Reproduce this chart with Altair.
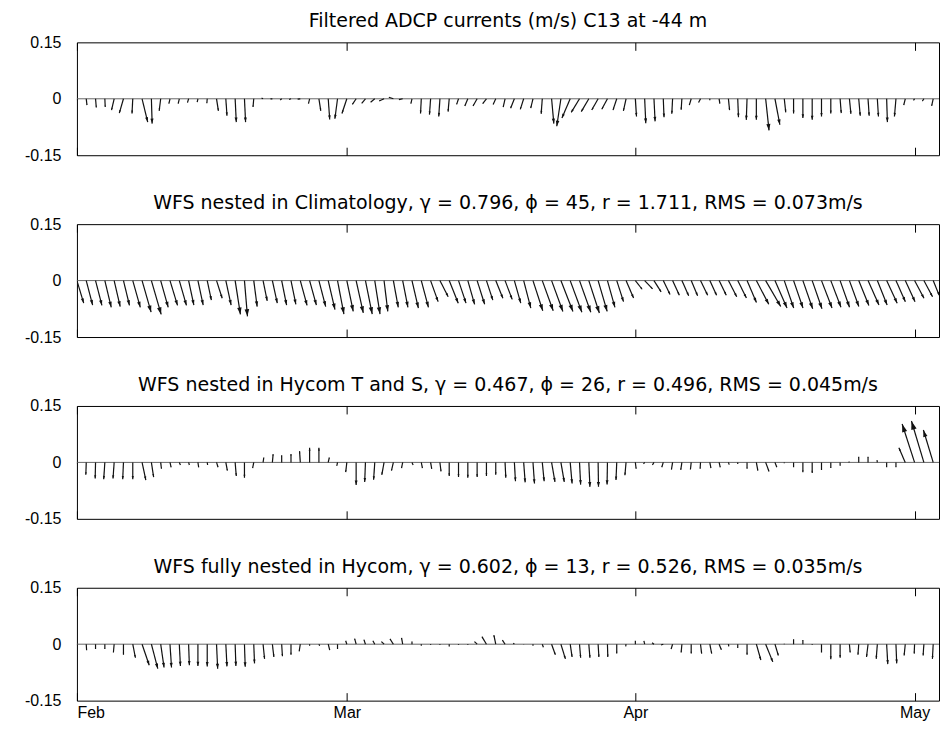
import altair as alt
import pandas as pd

FONT = "Liberation Sans"
TITLE_FONT = "DejaVu Sans"

titles = [
    "Filtered ADCP currents (m/s) C13 at -44 m",
    "WFS nested in Climatology, γ = 0.796, ϕ = 45, r = 1.711, RMS = 0.073m/s",
    "WFS nested in Hycom T and S, γ = 0.467, ϕ = 26, r = 0.496, RMS = 0.045m/s",
    "WFS fully nested in Hycom, γ = 0.602, ϕ = 13, r = 0.526, RMS = 0.035m/s",
]

# daily samples, 1 Feb 2008 .. 3 May 2008
dates = pd.date_range("2008-02-01", periods=93, freq="D").strftime("%Y-%m-%dT%H:%M:%S").tolist()

# east (u) and north (v) components, m/s
u1 = [0.001, 0.002, 0.002, 0.001, -0.007, -0.011, -0.002, 0.015, 0.002, -0.004,
      -0.003, -0.003, -0.003, -0.002, -0.001, 0.005, 0.003, 0.003, 0.003, -0.002,
      -0.004, -0.005, -0.004, -0.005, -0.007, -0.003, 0.005, 0.004, -0.007, -0.013,
      -0.010, -0.010, -0.011, -0.013, -0.012, -0.010, -0.003, -0.002, -0.003, -0.003,
      -0.003, -0.005, -0.008, -0.011, -0.010, -0.007, -0.005, -0.010, -0.009, -0.006,
      -0.003, 0.006, -0.011, -0.022, -0.022, -0.020, -0.017, -0.015, -0.010, -0.007,
      0.003, 0.003, 0.003, 0.002, -0.002, -0.002, -0.005, -0.005, 0.000, 0.002,
      0.003, 0.002, -0.002, 0.000, 0.009, 0.013, 0.004, 0.000, 0.000, 0.000,
      0.000, 0.000, 0.003, 0.004, 0.004, 0.003, 0.003, 0.002, -0.004, -0.004,
      -0.003, -0.004, -0.004]
v1 = [-0.005, -0.017, -0.023, -0.022, -0.030, -0.038, -0.039, -0.062, -0.066, -0.032,
      -0.013, -0.013, -0.010, -0.009, -0.012, -0.032, -0.045, -0.062, -0.062, -0.022,
      0.002, 0.000, -0.003, -0.002, -0.001, -0.013, -0.032, -0.055, -0.053, -0.039,
      -0.015, -0.012, -0.009, -0.006, 0.004, -0.002, -0.013, -0.039, -0.042, -0.047,
      -0.034, -0.015, -0.019, -0.019, -0.013, -0.015, -0.022, -0.025, -0.028, -0.025,
      -0.040, -0.066, -0.073, -0.051, -0.036, -0.034, -0.030, -0.028, -0.030, -0.032,
      -0.047, -0.065, -0.060, -0.049, -0.040, -0.029, -0.017, -0.010, -0.004, -0.013,
      -0.030, -0.049, -0.056, -0.056, -0.084, -0.069, -0.036, -0.039, -0.051, -0.056,
      -0.047, -0.039, -0.038, -0.040, -0.045, -0.045, -0.047, -0.062, -0.047, -0.017,
      -0.004, -0.006, -0.019]

u2 = [0.018, 0.017, 0.017, 0.017, 0.016, 0.016, 0.020, 0.024, 0.026, 0.020,
      0.020, 0.019, 0.014, 0.014, 0.011, 0.015, 0.014, 0.014, 0.008, 0.009,
      0.011, 0.013, 0.013, 0.013, 0.018, 0.018, 0.018, 0.018, 0.017, 0.017,
      0.019, 0.018, 0.014, 0.010, 0.013, 0.014, 0.017, 0.019, 0.020, 0.022,
      0.024, 0.020, 0.018, 0.020, 0.017, 0.019, 0.019, 0.017, 0.019, 0.026,
      0.029, 0.030, 0.032, 0.031, 0.030, 0.028, 0.024, 0.020, 0.018, 0.020,
      0.018, 0.021, 0.019, 0.018, 0.018, 0.018, 0.017, 0.019, 0.018, 0.019,
      0.022, 0.023, 0.025, 0.033, 0.040, 0.032, 0.025, 0.025, 0.026, 0.026,
      0.028, 0.027, 0.025, 0.025, 0.027, 0.029, 0.026, 0.028, 0.025, 0.026,
      0.025, 0.023, 0.016]
v2 = [-0.060, -0.065, -0.066, -0.071, -0.069, -0.066, -0.071, -0.084, -0.090, -0.071,
      -0.066, -0.066, -0.065, -0.065, -0.052, -0.047, -0.065, -0.090, -0.095, -0.069,
      -0.054, -0.060, -0.065, -0.063, -0.066, -0.065, -0.069, -0.077, -0.089, -0.082,
      -0.086, -0.089, -0.089, -0.082, -0.071, -0.071, -0.073, -0.071, -0.056, -0.043,
      -0.060, -0.060, -0.063, -0.063, -0.052, -0.047, -0.050, -0.060, -0.073, -0.080,
      -0.080, -0.082, -0.082, -0.084, -0.084, -0.086, -0.082, -0.071, -0.056, -0.046,
      -0.023, -0.022, -0.030, -0.037, -0.039, -0.040, -0.040, -0.039, -0.039, -0.039,
      -0.043, -0.046, -0.058, -0.063, -0.069, -0.073, -0.073, -0.073, -0.075, -0.075,
      -0.073, -0.071, -0.071, -0.069, -0.066, -0.065, -0.065, -0.060, -0.056, -0.056,
      -0.047, -0.043, -0.039]

u3 = [0.000, -0.001, -0.001, -0.003, -0.003, -0.002, 0.000, 0.010, 0.006, 0.002,
      0.003, 0.003, 0.002, 0.002, 0.001, 0.004, 0.004, 0.003, 0.000, -0.003,
      0.002, 0.002, 0.000, 0.000, -0.002, 0.000, 0.000, 0.003, -0.002, -0.003,
      0.000, -0.002, -0.003, -0.006, -0.005, -0.003, 0.003, 0.003, 0.003, 0.003,
      0.000, 0.000, 0.000, 0.000, 0.000, 0.000, 0.002, 0.003, 0.004, 0.004,
      0.005, 0.009, 0.009, 0.005, 0.003, 0.003, 0.001, -0.001, -0.002, -0.003,
      0.002, -0.003, -0.004, -0.004, -0.003, -0.003, -0.002, -0.001, 0.003, 0.003,
      0.002, 0.000, 0.000, 0.004, 0.009, 0.005, 0.000, 0.000, 0.000, 0.000,
      0.000, 0.000, 0.000, -0.002, 0.000, 0.000, -0.001, 0.000, 0.000, -0.017,
      -0.033, -0.033, -0.026]
v3 = [-0.004, -0.033, -0.043, -0.045, -0.043, -0.045, -0.045, -0.047, -0.039, -0.017,
      -0.013, -0.007, -0.007, -0.013, -0.007, -0.013, -0.022, -0.036, -0.041, -0.015,
      0.013, 0.022, 0.019, 0.022, 0.030, 0.039, 0.039, 0.013, -0.009, -0.026,
      -0.060, -0.052, -0.046, -0.033, -0.022, -0.015, -0.007, -0.015, -0.017, -0.024,
      -0.036, -0.039, -0.041, -0.039, -0.036, -0.033, -0.041, -0.050, -0.053, -0.056,
      -0.050, -0.052, -0.052, -0.056, -0.059, -0.065, -0.065, -0.059, -0.047, -0.034,
      -0.017, -0.004, -0.007, -0.013, -0.019, -0.020, -0.019, -0.017, -0.015, -0.013,
      -0.006, -0.004, -0.017, -0.022, -0.024, -0.013, -0.002, -0.013, -0.026, -0.028,
      -0.020, -0.015, -0.009, 0.002, 0.015, 0.015, 0.006, -0.013, -0.013, 0.039,
      0.102, 0.110, 0.086]

u4 = [0.000, 0.001, 0.000, 0.000, -0.002, 0.000, 0.007, 0.019, 0.017, 0.009,
      0.004, 0.003, 0.002, 0.000, 0.000, 0.003, 0.003, 0.002, 0.002, 0.002,
      0.004, 0.004, 0.002, 0.000, -0.003, 0.000, 0.002, 0.004, 0.000, -0.003,
      -0.004, -0.004, -0.005, -0.007, -0.009, -0.003, 0.000, 0.000, 0.000, 0.000,
      0.000, 0.000, 0.000, -0.007, -0.012, -0.005, -0.007, -0.003, 0.000, 0.000,
      0.003, 0.010, 0.012, 0.005, 0.003, 0.003, 0.002, 0.001, 0.000, -0.001,
      0.000, -0.002, -0.005, -0.006, -0.004, -0.002, 0.000, 0.003, 0.005, 0.006,
      0.001, 0.000, 0.000, 0.012, 0.019, 0.009, 0.000, 0.000, 0.000, 0.000,
      0.000, 0.000, 0.000, 0.002, -0.002, -0.004, -0.003, 0.003, 0.002, -0.003,
      -0.001, -0.002, -0.002]
v4 = [-0.003, -0.016, -0.013, -0.013, -0.022, -0.028, -0.036, -0.056, -0.065, -0.062,
      -0.062, -0.058, -0.056, -0.058, -0.059, -0.065, -0.059, -0.058, -0.060, -0.051,
      -0.039, -0.034, -0.032, -0.028, -0.019, -0.004, -0.004, -0.016, -0.013, 0.009,
      0.015, 0.012, 0.009, 0.007, 0.014, 0.017, 0.007, -0.004, -0.002, -0.002,
      -0.006, -0.002, -0.002, 0.007, 0.020, 0.024, 0.011, 0.003, -0.001, -0.004,
      -0.008, -0.028, -0.039, -0.034, -0.036, -0.036, -0.034, -0.034, -0.025, -0.006,
      0.009, 0.009, 0.004, -0.002, -0.013, -0.022, -0.025, -0.025, -0.025, -0.015,
      -0.006, -0.010, -0.028, -0.042, -0.047, -0.030, 0.001, 0.013, 0.011, -0.002,
      -0.022, -0.040, -0.036, -0.022, -0.028, -0.034, -0.039, -0.053, -0.051, -0.030,
      -0.025, -0.030, -0.039]

series = [(u1, v1), (u2, v2), (u3, v3), (u4, v4)]

# ---- layout / geometry -------------------------------------------------
W, H = 863, 113
YMIN, YMAX = -0.15, 0.15
x_start = pd.Timestamp("2008-02-01T00:00:00")
x_end = pd.Timestamp("2008-05-03T15:00:00")
span_ms = (x_end - x_start).total_seconds() * 1000.0
px_per_unit = H / (YMAX - YMIN)          # pixels per m/s (vertical)
K = px_per_unit * span_ms / W            # ms of time axis per m/s (equal aspect)
HEAD = 4 * (0.2 * px_per_unit) ** 2      # arrow head size factor

ARROW = "M0,0 L-0.32,1 L0.32,1 Z"

xscale = alt.Scale(domain=[alt.DateTime(year=2008, month=2, date=1),
                           alt.DateTime(year=2008, month=5, date=3, hours=15)])
yscale = alt.Scale(domain=[YMIN, YMAX], nice=False, zero=False)
month_ticks = [alt.DateTime(year=2008, month=m, date=1) for m in (2, 3, 4, 5)]


def xaxis(orient, labels):
    return alt.Axis(orient=orient, values=month_ticks, format="%b", labels=labels,
                    ticks=True, tickSize=8, offset=-8, domain=False, grid=False,
                    title=None, labelFontSize=16, labelFont=FONT, labelColor="black",
                    tickColor="black", tickWidth=1, labelPadding=4)


yaxis = alt.Axis(values=[-0.15, 0, 0.15], labelExpr="toString(datum.value)",
                 ticks=False, tickSize=0, domain=False, grid=False, title=None,
                 labelFontSize=16, labelFont=FONT, labelColor="black", labelPadding=16)

panels = []
for i, ((u, v), title) in enumerate(zip(series, titles)):
    df = pd.DataFrame({"t": dates, "u": u, "v": v})
    base = alt.Chart(df).transform_calculate(
        zero="0",
        te=f"time(datum.t) + datum.u * {K}",
        ang="(atan2(datum.u, datum.v) * 180 / PI + 360) % 360",
        hs=f"{HEAD} * (datum.u * datum.u + datum.v * datum.v)",
    )
    zero_line = alt.Chart(pd.DataFrame({"z": [0.0]})).mark_rule(
        color="#666666", strokeWidth=1
    ).encode(y=alt.Y("z:Q", scale=yscale, axis=yaxis))
    sticks = base.mark_rule(color="#111111", strokeWidth=1.2, clip=True).encode(
        x=alt.X("t:T", scale=xscale, axis=xaxis("bottom", i == 3)),
        x2=alt.X2("te"),
        y=alt.Y("zero:Q", scale=yscale, axis=yaxis),
        y2=alt.Y2("v"),
    )
    heads = base.mark_point(shape=ARROW, filled=True, color="#111111", opacity=1,
                            strokeWidth=0, clip=True).encode(
        x=alt.X("te:T", scale=xscale, axis=xaxis("top", False)),
        y=alt.Y("v:Q", scale=yscale, axis=yaxis),
        angle=alt.Angle("ang:Q", scale=None),
        size=alt.Size("hs:Q", scale=None),
    )
    panel = alt.layer(zero_line, sticks, heads).resolve_axis(x="independent").properties(
        width=W, height=H,
        title=alt.TitleParams(text=title, fontSize=19, font=TITLE_FONT, fontWeight="normal",
                              anchor="middle", frame="group", offset=3, color="black"),
    )
    panels.append(panel)

chart = alt.vconcat(*panels, spacing=29).properties(
    padding={"left": 16, "top": 3, "right": 0, "bottom": 0}
).configure_view(stroke="black", strokeWidth=1)

chart.save("out.html", embed_options={"renderer": "svg", "actions": False})
